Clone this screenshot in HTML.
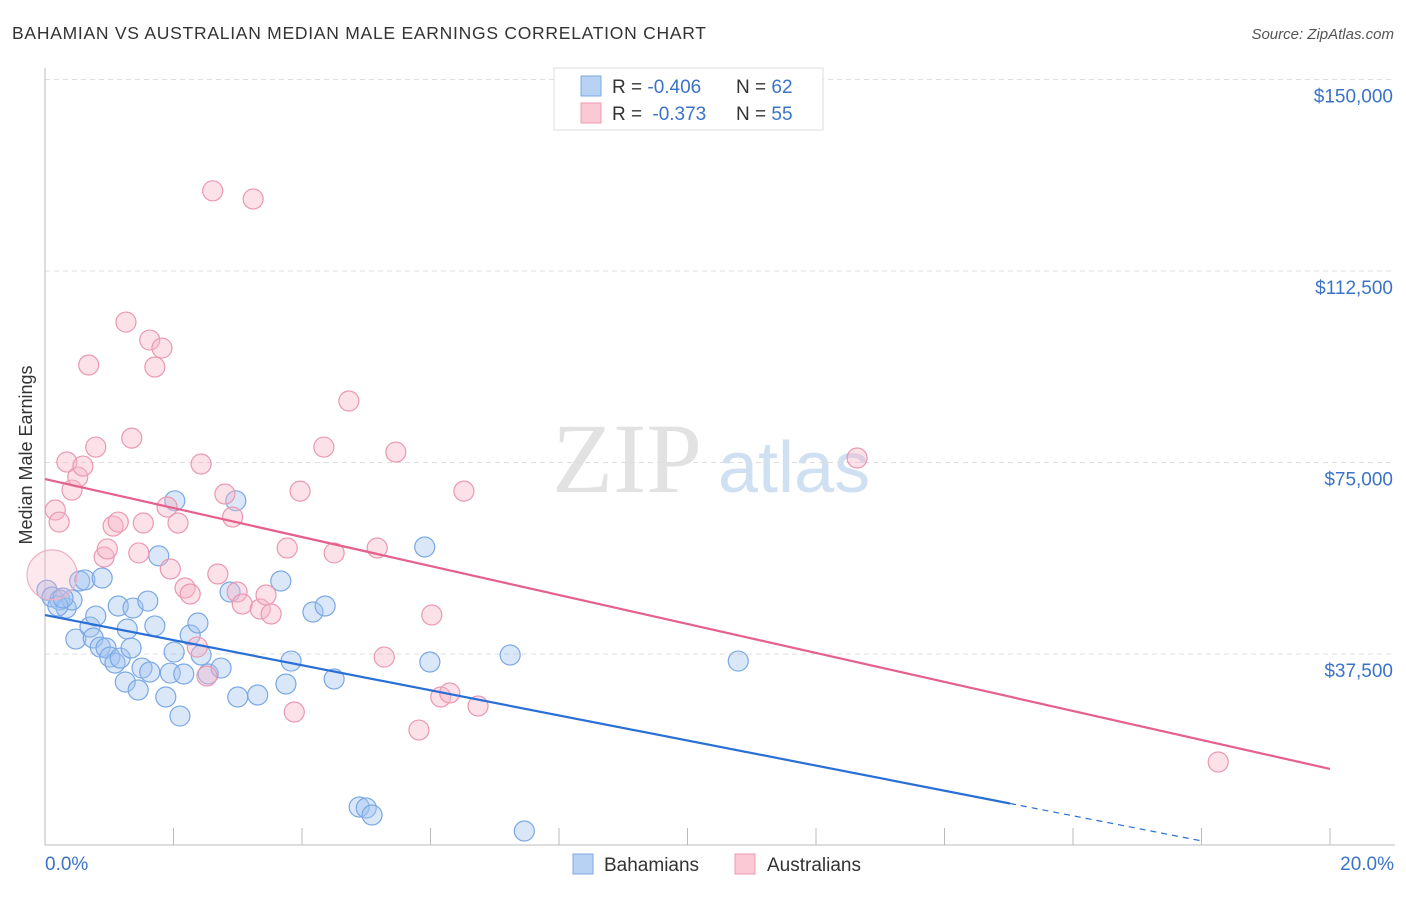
<!DOCTYPE html>
<html><head><meta charset="utf-8"><style>
body{margin:0;background:#fff;font-family:"Liberation Sans",sans-serif}
svg text{font-family:"Liberation Sans",sans-serif}
</style></head><body>
<svg id="chart" width="1406" height="892">
<text x="12" y="39" font-size="17.5" fill="#333" textLength="694">BAHAMIAN VS AUSTRALIAN MEDIAN MALE EARNINGS CORRELATION CHART</text>
<text x="1394" y="39" font-size="15" fill="#555" font-style="italic" text-anchor="end">Source: ZipAtlas.com</text>
<g>
<text x="552" y="492" font-size="100" fill="#e2e2e2" style="font-family:'Liberation Serif',serif">ZIP</text>
<text x="718" y="492" font-size="72" fill="#cfe0f2">atlas</text>
</g>
<g id="grid"></g>
<line x1="45" y1="68" x2="45" y2="845" stroke="#bbb"/>
<line x1="45" y1="845" x2="1395" y2="845" stroke="#bbb"/>
<text x="32" y="455" font-size="18" fill="#333" text-anchor="middle" transform="rotate(-90 32 455)">Median Male Earnings</text>
<text x="45" y="870" font-size="19" fill="#3b73c8">0.0%</text>
<text x="1394" y="870" font-size="19" fill="#3b73c8" text-anchor="end">20.0%</text>
<g id="marks"></g>
<g>
<rect x="554" y="68" width="269" height="62" fill="#fff" stroke="#ddd"/>
<rect x="581" y="76" width="20" height="20" fill="#b8d2f4" stroke="#7ea8e0"/>
<rect x="581" y="103" width="20" height="20" fill="#fbc8d6" stroke="#ec9ab2"/>
<text x="612" y="93" font-size="19" fill="#333">R = <tspan fill="#3b73c8">-0.406</tspan><tspan x="736">N = </tspan><tspan fill="#3b73c8">62</tspan></text>
<text x="612" y="120" font-size="19" fill="#333">R = <tspan fill="#3b73c8" dx="5">-0.373</tspan><tspan x="736">N = </tspan><tspan fill="#3b73c8">55</tspan></text>
</g>
<g>
<rect x="573" y="854" width="20" height="20" fill="#b8d2f4" stroke="#7ea8e0"/>
<text x="604" y="871" font-size="19" fill="#333">Bahamians</text>
<rect x="735" y="854" width="20" height="20" fill="#fbc8d6" stroke="#ec9ab2"/>
<text x="767" y="871" font-size="19" fill="#333">Australians</text>
</g>
</svg>
<script>
const yTicks=[37500,75000,112500,150000];
const yTickLabels=["$37,500","$75,000","$112,500","$150,000"];
const xTicks=[0,2,4,6,8,10,12,14,16,18,20];
const bahX=[0.03,0.11,0.23,0.33,0.42,0.20,0.54,0.62,0.89,0.48,0.70,0.75,0.79,0.86,0.95,1.01,1.09,1.14,1.17,1.28,1.25,1.34,1.37,1.45,1.51,1.60,1.63,1.71,1.77,1.88,1.95,2.01,2.10,2.02,2.16,2.26,2.38,2.43,2.54,2.74,2.88,2.97,3.00,3.31,3.67,3.75,3.83,4.17,4.36,4.50,4.89,5.00,5.09,5.91,5.99,7.24,7.46,10.79,0.28];
const bahY=[50000,48660,48070,46500,48070,46900,51800,52000,52380,40430,42780,40630,44930,38860,38670,36900,35730,46900,36700,42390,32010,38670,46500,30450,34750,47870,33970,43000,56720,29080,33770,37880,25350,67500,33580,41220,43570,37300,33580,34750,49640,67500,29080,29470,51800,31620,36120,45720,46900,32600,7540,7340,5970,58460,35930,37300,2840,36120,48460];
const ausX=[0.11,0.16,0.22,0.34,0.42,0.51,0.59,0.68,0.79,0.92,0.97,1.06,1.14,1.26,1.35,1.46,1.53,1.63,1.71,1.82,1.95,1.90,2.07,2.18,2.26,2.37,2.43,2.52,2.61,2.69,2.80,2.92,2.99,3.07,3.24,3.35,3.44,3.52,3.77,3.88,3.97,4.34,4.50,4.73,5.17,5.28,5.46,5.82,6.02,6.16,6.30,6.52,6.74,12.64,18.26];
const ausY=[53000,65700,63340,75100,69600,72150,74300,94100,78020,56500,58070,62550,63340,102500,79780,57290,63150,98980,93700,97410,54140,66280,63150,50420,49250,38860,74700,33190,128200,53160,68830,64320,49640,47290,126600,46310,49050,45330,58260,26140,69400,78020,57290,87040,58260,36900,77040,22610,45130,29080,29860,69400,27320,75880,16350];
const ausR=[25];
const bahTrend=[45130,-2457];
const ausTrend=[71760,-2838];
const NS="http://www.w3.org/2000/svg";
const sx=v=>45+v/20*1285;
const sy=v=>845.5-v/37500*191.5;
function mk(t,a,p){const e=document.createElementNS(NS,t);for(const k in a)e.setAttribute(k,a[k]);p.appendChild(e);return e;}
const grid=document.getElementById('grid'),marks=document.getElementById('marks');
yTicks.forEach((v,i)=>{
 const l=mk('line',{x1:45,x2:1395,y1:sy(v),y2:sy(v),stroke:'#ddd','stroke-dasharray':'5,4'},grid);
 
 
 const t=mk('text',{x:1393,y:sy(v)+23,'font-size':19,fill:'#3b73c8','text-anchor':'end'},grid);
 t.textContent=yTickLabels[i];
 
 
});
xTicks.forEach(v=>{
 const l=mk('line',{x1:sx(v),x2:sx(v),y1:828,y2:845,stroke:'#bbb'},grid);
 
 
});
bahX.forEach((x,i)=>{
 const c=mk('circle',{cx:sx(x),cy:sy(bahY[i]),r:10,fill:'rgba(160,196,240,0.4)',stroke:'#7aa8e4','stroke-width':1.2},marks);
 
 
});
ausX.forEach((x,i)=>{
 const c=mk('circle',{cx:sx(x),cy:sy(ausY[i]),r:i===0?ausR[0]:10,fill:i===0?'rgba(248,180,200,0.3)':'rgba(248,180,200,0.4)',stroke:i===0?'#f0b0c4':'#ea98b0','stroke-width':1.2},marks);
 
 
});
const bt=x=>bahTrend[0]+bahTrend[1]*x, at=x=>ausTrend[0]+ausTrend[1]*x;
let l=mk('line',{x1:sx(0),y1:sy(bt(0)),x2:sx(15.02),y2:sy(bt(15.02)),stroke:'#2a6fd6','stroke-width':2.2},marks);


l=mk('line',{x1:sx(15.02),y1:sy(bt(15.02)),x2:sx(18),y2:sy(bt(18)),stroke:'#2a6fd6','stroke-width':1.2,'stroke-dasharray':'6,5'},marks);


l=mk('line',{x1:sx(0),y1:sy(at(0)),x2:sx(20),y2:sy(at(20)),stroke:'#e5608a','stroke-width':2.2},marks);


</script>
</body></html>
